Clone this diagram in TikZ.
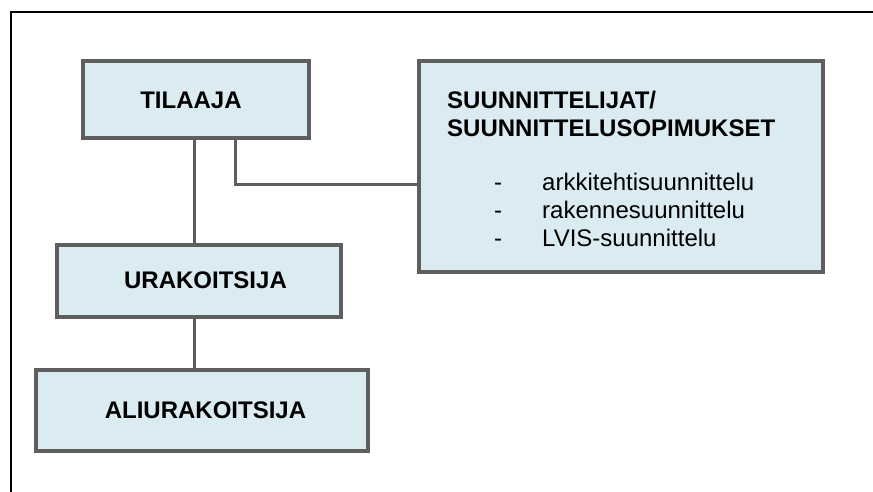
\documentclass[tikz,border=0pt]{standalone}
\usepackage{fontspec}
\setmainfont{Liberation Sans}
\definecolor{boxfill}{HTML}{DAECF2}
\definecolor{edgegray}{HTML}{5E5E5E}
\begin{document}
\begin{tikzpicture}[x=1pt,y=-1pt,
  box/.style={draw=edgegray, fill=boxfill, line width=4pt, inner sep=0pt,
    font=\fontsize{24}{28}\selectfont\bfseries},
  conn/.style={draw=edgegray, line width=3pt},
  title/.style={anchor=base west, inner sep=0pt, font=\fontsize{24}{28}\selectfont\bfseries},
  item/.style={anchor=base west, inner sep=0pt, font=\fontsize{24}{28}\selectfont}]
\useasboundingbox (0,0) rectangle (873,492);
\fill[white] (0,0) rectangle (873,492);
% outer frame (cropped)
\draw[line width=2pt] (11,495) -- (11,12) -- (876,12);
% boxes
\node[box, minimum width=226pt, minimum height=77pt] (til) at (195.5,100) {TILAAJA\hspace*{9pt}};
\node[box, minimum width=404pt, minimum height=210pt] (suun) at (620.5,166.5) {};
\node[box, minimum width=284pt, minimum height=72pt] (ura) at (198.5,280.5) {\hspace*{14pt}URAKOITSIJA};
\node[box, minimum width=332pt, minimum height=81pt] (ali) at (201.5,410) {\hspace*{8pt}ALIURAKOITSIJA};
% texts in the designer box
\node[title] (t1) at (447,108.5) {SUUNNITTELIJAT/};
\node[title] (t2) at (447,137) {SUUNNITTELUSOPIMUKSET};
\node[item] (d1) at (494,190) {-};
\node[item] (d2) at (494,218) {-};
\node[item] (d3) at (494,246) {-};
\node[item] (i1) at (542,190) {arkkitehtisuunnittelu};
\node[item] (i2) at (542,218) {rakennesuunnittelu};
\node[item] (i3) at (542,246) {LVIS-suunnittelu};
% connectors
\coordinate (cx) at (194,0);
\coordinate (cy) at (235,184);
\draw[conn] (til.south -| cx) -- (ura.north -| cx);
\draw[conn] (ura.south -| cx) -- (ali.north -| cx);
\draw[conn] (til.south -| cy) |- (suun.west |- cy);
\end{tikzpicture}
\end{document}
